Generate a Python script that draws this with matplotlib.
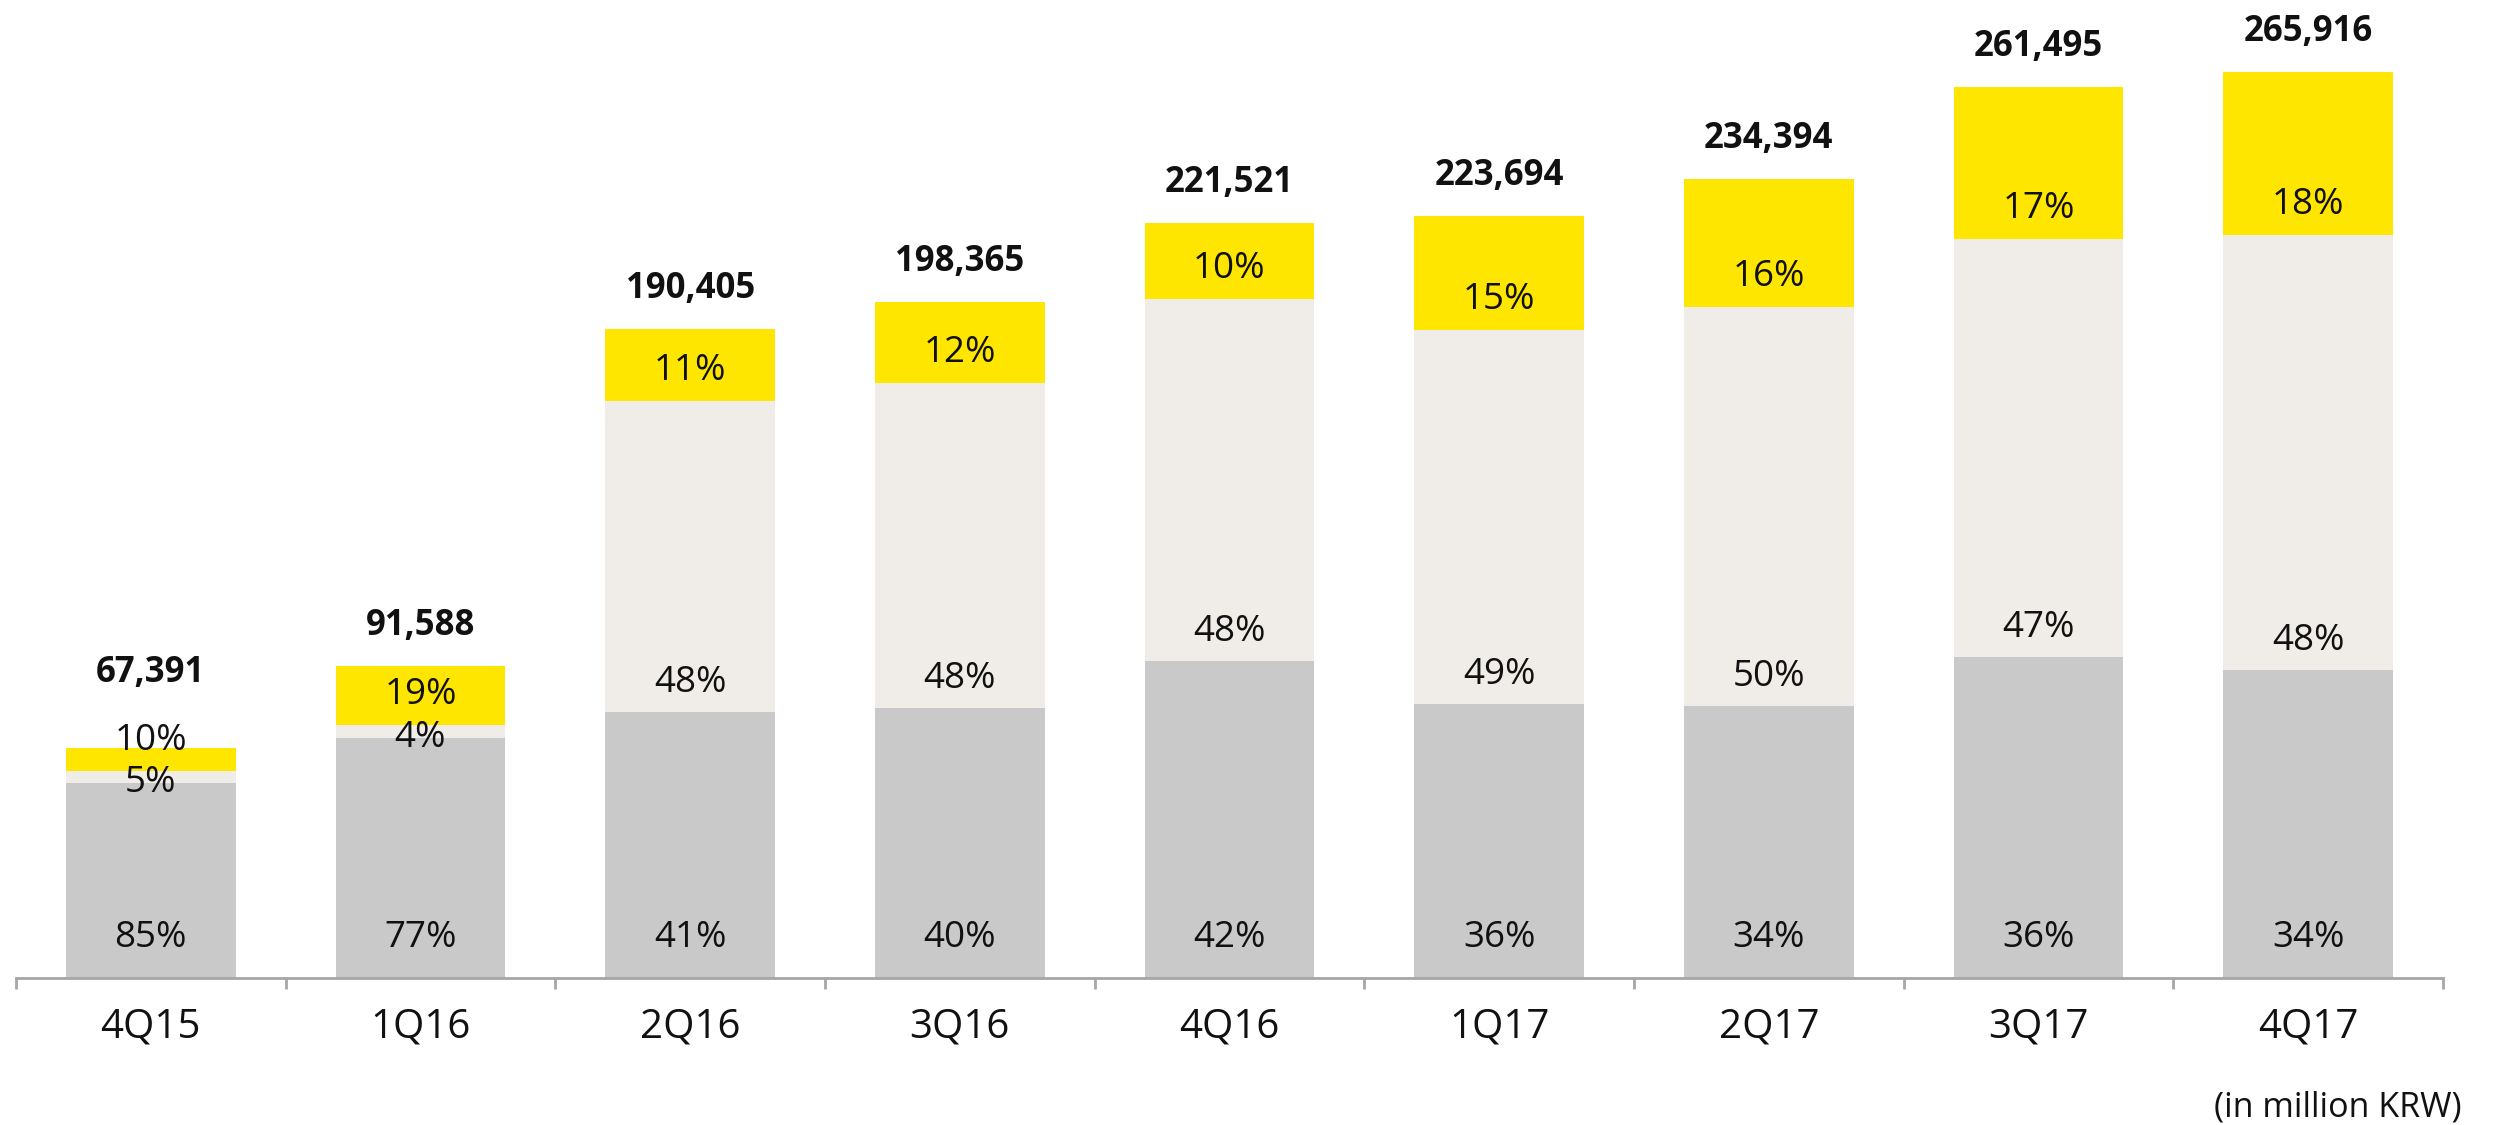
import matplotlib.pyplot as plt
import numpy as np

# Quarterly totals (in million KRW) with the share of each segment (%)
quarters = ["4Q15", "1Q16", "2Q16", "3Q16", "4Q16", "1Q17", "2Q17", "3Q17", "4Q17"]
totals = [67391, 91588, 190405, 198365, 221521, 223694, 234394, 261495, 265916]
share_gray = [85, 77, 41, 40, 42, 36, 34, 36, 34]
share_beige = [5, 4, 48, 48, 48, 49, 50, 47, 48]
share_yellow = [10, 19, 11, 12, 10, 15, 16, 17, 18]

GRAY = "#C9C9C9"
BEIGE = "#F0EDE8"
YELLOW = "#FFE600"
AXIS = "#A6A6A6"

plt.rcParams["font.family"] = ["Open Sans", "DejaVu Sans"]

W, H, DPI = 2498, 1125, 100
fig = plt.figure(figsize=(W / DPI, H / DPI), dpi=DPI)

base_px = 978
ax = fig.add_axes([16 / W, (H - base_px) / H, (2443 - 16) / W, base_px / H])

x = np.arange(len(quarters))
tot = np.array(totals, dtype=float)
g = tot * np.array(share_gray) / 100
b = tot * np.array(share_beige) / 100
y = tot * np.array(share_yellow) / 100

bw = 0.63
ax.bar(x, g, bw, color=GRAY, linewidth=0)
ax.bar(x, b, bw, bottom=g, color=BEIGE, linewidth=0)
ax.bar(x, y, bw, bottom=g + b, color=YELLOW, linewidth=0)

top_px = 72
ymax = max(totals) * base_px / (base_px - top_px)
ax.set_ylim(0, ymax)
ax.set_xlim(-0.5, len(quarters) - 0.5)

units_per_px = ymax / base_px
fs = 26.5

for i in range(len(quarters)):
    # bottom segment label sits at a fixed height above the axis
    ax.annotate(f"{share_gray[i]}%", (x[i], 0), xytext=(0, 40),
                textcoords="offset pixels", ha="center", va="center", fontsize=fs, color="#111111")
    # middle segment label just above the gray segment
    off = 29 if share_beige[i] > 20 else 0
    ax.annotate(f"{share_beige[i]}%", (x[i], g[i]), xytext=(0, off),
                textcoords="offset pixels", ha="center", va="center", fontsize=fs, color="#111111")
    # top segment label
    ax.annotate(f"{share_yellow[i]}%", (x[i], g[i] + b[i]), xytext=(0, 30),
                textcoords="offset pixels", ha="center", va="center", fontsize=fs, color="#111111")
    # total above bar, kept clear of the yellow label
    top_off = 40
    label_px = (g[i] + b[i]) / units_per_px + 30
    bar_px = tot[i] / units_per_px
    top_off = max(top_off, label_px + 68 - bar_px)
    ax.annotate(f"{totals[i]:,}", (x[i], tot[i]), xytext=(0, top_off),
                textcoords="offset pixels", ha="center", va="center", fontsize=25,
                fontweight="bold", color="#111111")

for s in ["top", "right", "left"]:
    ax.spines[s].set_visible(False)
ax.spines["bottom"].set_color(AXIS)
ax.spines["bottom"].set_linewidth(2)
ax.set_yticks([])

ax.set_xticks(x)
ax.set_xticklabels(quarters, fontsize=29, color="#111111")
ax.tick_params(axis="x", which="major", length=0, pad=21)
ax.set_xticks(np.arange(-0.5, len(quarters)), minor=True)
ax.tick_params(axis="x", which="minor", length=8, width=2, color=AXIS, direction="out")

fig.text(2462 / W, 1 - 1108 / H, "(in million KRW)", ha="right", va="center",
         fontsize=24.5, color="#111111")

fig.savefig("out.png", dpi=DPI)
plt.close(fig)
